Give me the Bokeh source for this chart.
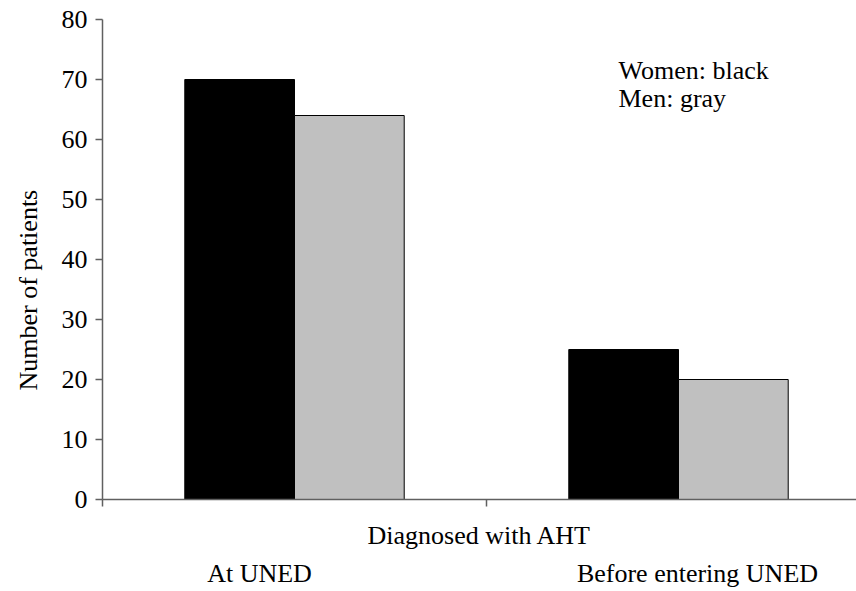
from bokeh.plotting import figure
from bokeh.models import Range1d, FixedTicker, LinearAxis, ColumnDataSource, Label, Title
from bokeh.embed import file_html
from bokeh.resources import INLINE

categories = ["At UNED", "Before entering UNED"]
women = [70, 25]
men = [64, 20]
y_ticks = [0, 10, 20, 30, 40, 50, 60, 70, 80]
legend_lines = ["Women: black", "Men: gray"]
x_title = "Diagnosed with AHT"
y_title = "Number of patients"

FONT = "Liberation Serif"
FS = "26px"
bar_w = 1 / 3.5
W, H = 856, 591
LEFT, TOP, BOTTOM = 102, 19, 92
px_per_cat = 384

p = figure(width=W, height=H, output_backend="svg", toolbar_location=None,
           x_range=Range1d(0, (W - LEFT) / px_per_cat), y_range=Range1d(0, 80),
           min_border_left=LEFT, min_border_right=0, min_border_top=TOP,
           min_border_bottom=BOTTOM)
p.outline_line_color = None
p.xgrid.visible = False
p.ygrid.visible = False
p.background_fill_color = "white"

idx = list(range(len(categories)))
src = ColumnDataSource(dict(
    xw=[i + 0.5 - bar_w / 2 for i in idx],
    xm=[i + 0.5 + bar_w / 2 for i in idx],
    women=women, men=men))
p.vbar(x="xw", top="women", bottom=0, width=bar_w, source=src,
       fill_color="black", line_color="black", line_width=1)
p.vbar(x="xm", top="men", bottom=0, width=bar_w, source=src,
       fill_color="#C0C0C0", line_color="black", line_width=1)

AX = "#606060"
# y axis
ya = p.yaxis[0]
ya.ticker = FixedTicker(ticks=y_ticks)
ya.minor_tick_line_color = None
ya.major_tick_in = 0
ya.major_tick_out = 7
ya.axis_line_color = AX
ya.axis_line_width = 1.5
ya.major_tick_line_color = AX
ya.major_tick_line_width = 1.5
ya.major_label_text_font = FONT
ya.major_label_text_font_size = FS
ya.major_label_text_color = "black"
ya.major_label_standoff = 8

# y title, placed a little below the frame centre as in the original
yt = Title(text=y_title, align="left", offset=109, standoff=27, vertical_align="top",
           text_font=FONT, text_font_size=FS, text_font_style="normal",
           text_color="black")
p.add_layout(yt, "left")

# x axis: line, category separators and title
sep = [float(i) for i in range(len(categories) + 1)]
xa = p.xaxis[0]
xa.ticker = FixedTicker(ticks=sep)
xa.major_label_overrides = {s: "" for s in sep}
xa.minor_tick_line_color = None
xa.major_tick_in = 0
xa.major_tick_out = 7
xa.axis_line_color = AX
xa.axis_line_width = 1.5
xa.major_tick_line_color = AX
xa.major_tick_line_width = 1.5
xa.major_label_standoff = 0
xa.axis_label = x_title
xa.axis_label_text_font = FONT
xa.axis_label_text_font_size = FS
xa.axis_label_text_font_style = "normal"
xa.axis_label_text_color = "black"
xa.axis_label_standoff = 14

# category names below the title
cat_shift = [-35, 19]
cat_pos = [i + 0.5 + s / px_per_cat for i, s in zip(idx, cat_shift)]
ca = LinearAxis(ticker=FixedTicker(ticks=cat_pos),
                major_label_overrides={pos: c for pos, c in zip(cat_pos, categories)})
ca.axis_line_color = None
ca.major_tick_line_color = None
ca.minor_tick_line_color = None
ca.major_tick_in = 0
ca.major_tick_out = 0
ca.major_label_standoff = 6
ca.major_label_text_font = FONT
ca.major_label_text_font_size = FS
ca.major_label_text_color = "black"
p.add_layout(ca, "below")

# legend note
for j, t in enumerate(legend_lines):
    p.add_layout(Label(x=(618 - LEFT) / px_per_cat, y=71.5 - j * 4.7, text=t, text_font=FONT,
                       text_font_size=FS, text_color="black",
                       text_align="left", text_baseline="middle"))

open("out.html", "w").write(file_html(p, INLINE))
